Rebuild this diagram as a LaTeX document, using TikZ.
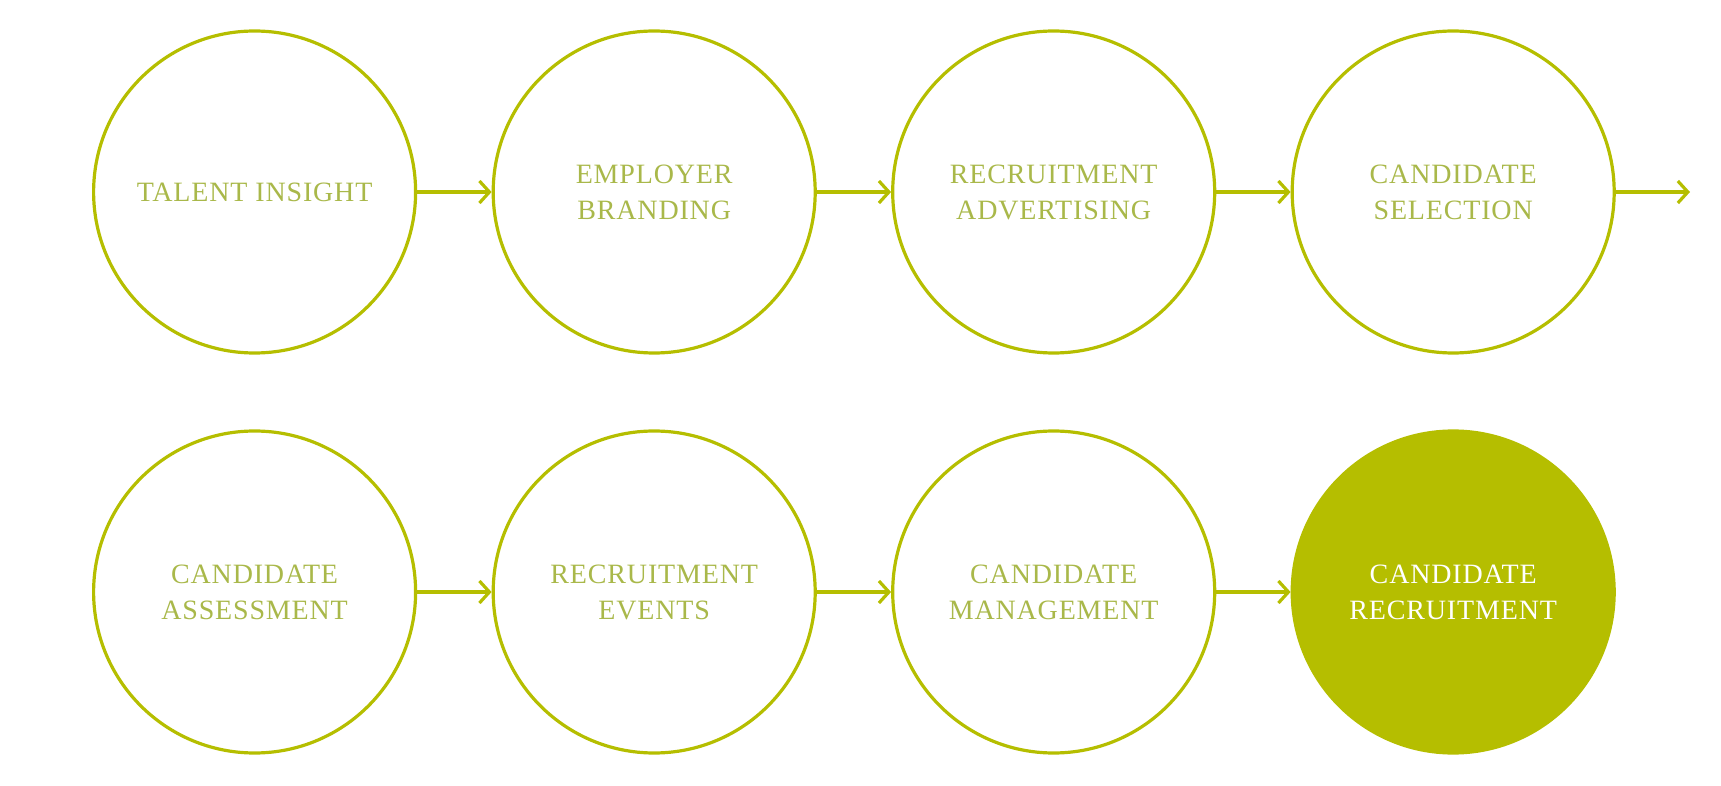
\documentclass[tikz,border=0pt]{standalone}
\usepackage{fontspec}
\setmainfont{Liberation Serif}[LetterSpace=3]
\usetikzlibrary{arrows.meta}
\definecolor{olive}{HTML}{B5BE00}
\definecolor{txt}{HTML}{A9B84A}
\tikzset{
  stage/.style={circle, draw=olive, line width=1.6pt, minimum size=322*0.5pt, inner sep=0pt,
    text=txt, font=\fontsize{14}{18}\selectfont, align=center},
  final/.style={stage, fill=olive, text=white},
  link/.style={draw=olive, line width=1.6pt, -{Straight Barb[length=5pt,width=11pt,line width=1.6pt]}}
}
\begin{document}
\begin{tikzpicture}[x=0.5pt,y=-0.5pt]
\useasboundingbox (0,0) rectangle (1721,786);
\node[stage] (a) at (254.6,192) {TALENT INSIGHT};
\node[stage] (b) at (654.2,192) {EMPLOYER\\BRANDING};
\node[stage] (c) at (1053.7,192) {RECRUITMENT\\ADVERTISING};
\node[stage] (d) at (1453.2,192) {CANDIDATE\\SELECTION};
\node[stage] (e) at (254.6,592) {CANDIDATE\\ASSESSMENT};
\node[stage] (f) at (654.2,592) {RECRUITMENT\\EVENTS};
\node[stage] (g) at (1053.7,592) {CANDIDATE\\MANAGEMENT};
\node[final] (h) at (1453.2,592) {CANDIDATE\\RECRUITMENT};
\coordinate (out) at (1690,192);
\draw[link] (a) -- (b);
\draw[link] (b) -- (c);
\draw[link] (c) -- (d);
\draw[link] (d.east) -- (out);
\draw[link] (e) -- (f);
\draw[link] (f) -- (g);
\draw[link] (g) -- (h);
\end{tikzpicture}
\end{document}
